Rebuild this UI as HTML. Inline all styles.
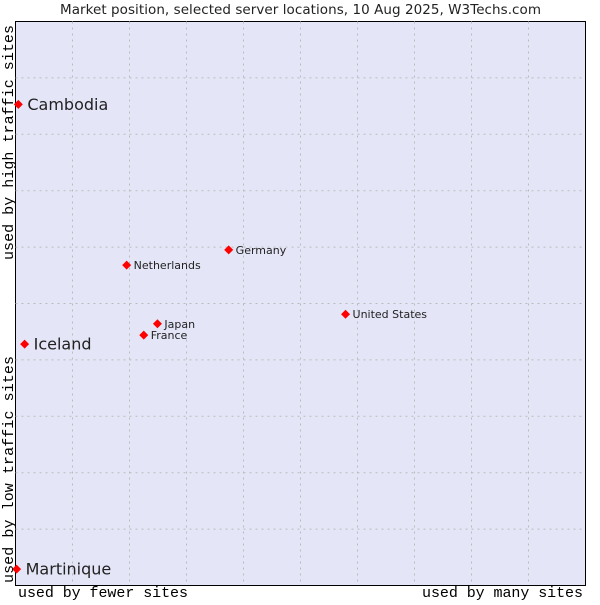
<!DOCTYPE html>
<html><head><meta charset="utf-8"><style>
body{margin:0;background:#fff;}
svg text{font-family:"DejaVu Sans","Liberation Sans",sans-serif;fill:#222;}
.mono{font-family:"Liberation Mono","DejaVu Sans Mono",monospace;font-size:15px;fill:#000;}
</style></head><body>
<svg width="600" height="600">
<text x="60" y="14" textLength="481" font-size="13.5">Market position, selected server locations, 10 Aug 2025, W3Techs.com</text>
<rect x="15.5" y="21.5" width="570" height="564" fill="#e4e6f8" stroke="#000" stroke-width="1"/>
<g id="grid"></g>
<g id="pts"></g>
<text class="mono" x="18" y="597" textLength="170">used by fewer sites</text>
<text class="mono" x="422" y="597" textLength="161">used by many sites</text>
<text class="mono" transform="translate(13,260) rotate(-90)" textLength="235">used by high traffic sites</text>
<text class="mono" transform="translate(13,583) rotate(-90)" textLength="227">used by low traffic sites</text>
</svg>
<script>
const names=["Cambodia","Iceland","Martinique","Netherlands","Germany","Japan","France","United States"];
const xVals=[0.5,1.6,0.2,19.5,37.4,24.9,22.5,57.9];
const yVals=[85.3,42.8,2.9,56.8,59.5,46.4,44.4,48.1];
const big=[true,true,true,false,false,false,false,false];
const L=15.5,R=585.5,T=21.5,B=585.5;
const sx=v=>L+v/100*(R-L), sy=v=>B-v/100*(B-T);
const ns="http://www.w3.org/2000/svg";
const g=document.getElementById('grid');
for(let i=1;i<10;i++){
  const v=document.createElementNS(ns,'line');
  
  
  v.setAttribute('x1',sx(i*10));v.setAttribute('x2',sx(i*10));v.setAttribute('y1',T);v.setAttribute('y2',B);
  v.setAttribute('stroke','#bbb');v.setAttribute('stroke-dasharray','2,4');g.appendChild(v);
  const h=document.createElementNS(ns,'line');
  
  
  h.setAttribute('y1',sy(i*10));h.setAttribute('y2',sy(i*10));h.setAttribute('x1',L);h.setAttribute('x2',R);
  h.setAttribute('stroke','#bbb');h.setAttribute('stroke-dasharray','2,4');g.appendChild(h);
}
const p=document.getElementById('pts');
names.forEach((n,i)=>{
  const x=sx(xVals[i]),y=sy(yVals[i]);
  const d=document.createElementNS(ns,'polygon');
  
  
  d.setAttribute('points',`${x},${y-4.5} ${x+4.5},${y} ${x},${y+4.5} ${x-4.5},${y}`);
  d.setAttribute('fill','#ff0000');p.appendChild(d);
  const t=document.createElementNS(ns,'text');
  
  
  t.setAttribute('x',x+(big[i]?9:7));t.setAttribute('y',y+(big[i]?5.5:4));
  t.setAttribute('font-size',big[i]?'16':'11');t.textContent=n;p.appendChild(t);
});
</script>
</body></html>
